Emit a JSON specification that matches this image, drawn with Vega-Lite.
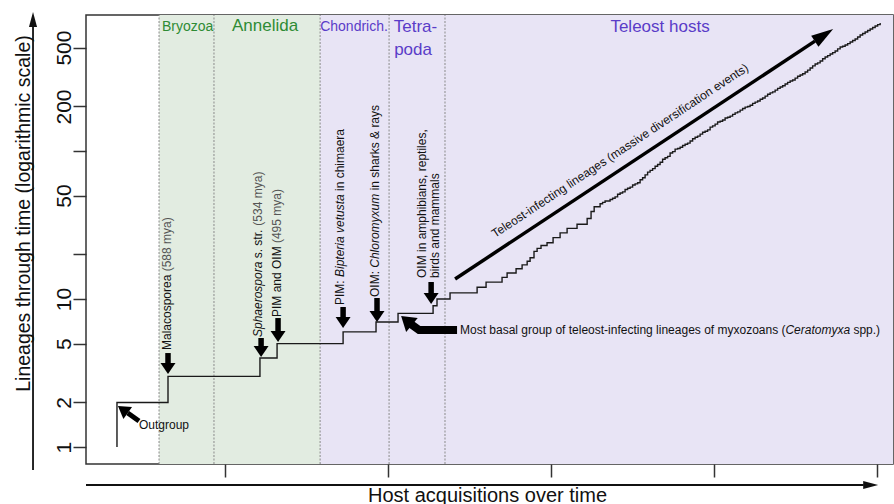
{
  "$schema": "https://vega.github.io/schema/vega-lite/v6.json",
  "width": 807,
  "height": 449,
  "autosize": {"type": "none"},
  "padding": {"left": 86, "top": 15, "right": 1, "bottom": 40},
  "background": "white",
  "config": {"view": {"stroke": "#333333", "strokeWidth": 1.5}, "font": "Liberation Sans"},
  "datasets": {
    "ltt": [
      {"i":0,"t":34.0,"n":1},{"i":1,"t":34.0,"n":2},{"i":2,"t":65.3,"n":3},{"i":3,"t":121.7,"n":4},{"i":4,"t":132.2,"n":5},
      {"i":5,"t":172.7,"n":6},{"i":6,"t":192.9,"n":7},{"i":7,"t":206.4,"n":8},{"i":8,"t":227.9,"n":9},{"i":9,"t":230.3,"n":10},
      {"i":10,"t":238.3,"n":11},{"i":11,"t":254.9,"n":12},{"i":12,"t":260.4,"n":13},{"i":13,"t":270.2,"n":14},{"i":14,"t":273.3,"n":15},
      {"i":15,"t":278.8,"n":16},{"i":16,"t":282.5,"n":17},{"i":17,"t":285.6,"n":18},{"i":18,"t":287.4,"n":19},{"i":19,"t":289.8,"n":21},
      {"i":20,"t":291.7,"n":22},{"i":21,"t":294.1,"n":23},{"i":22,"t":297.8,"n":24},{"i":23,"t":301.5,"n":26},{"i":24,"t":305.8,"n":28},
      {"i":25,"t":310.1,"n":30},{"i":26,"t":316.2,"n":32},{"i":27,"t":322.4,"n":35},{"i":28,"t":324.8,"n":39},{"i":29,"t":326.7,"n":42},
      {"i":30,"t":330.34,"n":44},{"i":31,"t":331.87,"n":45},{"i":32,"t":333.40,"n":46},{"i":33,"t":334.94,"n":46},{"i":34,"t":336.47,"n":47},
      {"i":35,"t":338.01,"n":48},{"i":36,"t":339.54,"n":49},{"i":37,"t":341.07,"n":51},{"i":38,"t":342.61,"n":52},{"i":39,"t":344.14,"n":53},
      {"i":40,"t":345.67,"n":55},{"i":41,"t":347.21,"n":56},{"i":42,"t":348.74,"n":57},{"i":43,"t":350.28,"n":59},{"i":44,"t":351.81,"n":60},
      {"i":45,"t":353.34,"n":61},{"i":46,"t":354.88,"n":64},{"i":47,"t":356.41,"n":66},{"i":48,"t":357.94,"n":69},{"i":49,"t":359.48,"n":72},
      {"i":50,"t":361.01,"n":74},{"i":51,"t":362.55,"n":76},{"i":52,"t":364.08,"n":79},{"i":53,"t":365.61,"n":81},{"i":54,"t":367.15,"n":84},
      {"i":55,"t":368.68,"n":88},{"i":56,"t":370.21,"n":90},{"i":57,"t":371.75,"n":92},{"i":58,"t":373.28,"n":97},{"i":59,"t":374.82,"n":99},
      {"i":60,"t":376.35,"n":103},{"i":61,"t":377.88,"n":104},{"i":62,"t":379.42,"n":106},{"i":63,"t":380.95,"n":109},{"i":64,"t":382.48,"n":111},
      {"i":65,"t":384.02,"n":113},{"i":66,"t":385.55,"n":117},{"i":67,"t":387.09,"n":121},{"i":68,"t":388.62,"n":124},{"i":69,"t":390.15,"n":126},
      {"i":70,"t":391.69,"n":130},{"i":71,"t":393.22,"n":134},{"i":72,"t":394.75,"n":136},{"i":73,"t":396.29,"n":139},{"i":74,"t":397.82,"n":145},
      {"i":75,"t":399.36,"n":148},{"i":76,"t":400.89,"n":152},{"i":77,"t":402.42,"n":157},{"i":78,"t":403.96,"n":159},{"i":79,"t":405.49,"n":162},
      {"i":80,"t":407.02,"n":167},{"i":81,"t":408.56,"n":169},{"i":82,"t":410.09,"n":172},{"i":83,"t":411.63,"n":177},{"i":84,"t":413.16,"n":181},
      {"i":85,"t":414.69,"n":184},{"i":86,"t":416.23,"n":189},{"i":87,"t":417.76,"n":194},{"i":88,"t":419.29,"n":198},{"i":89,"t":420.83,"n":200},
      {"i":90,"t":422.36,"n":204},{"i":91,"t":423.90,"n":210},{"i":92,"t":425.43,"n":214},{"i":93,"t":426.96,"n":218},{"i":94,"t":428.50,"n":224},
      {"i":95,"t":430.03,"n":228},{"i":96,"t":431.56,"n":235},{"i":97,"t":433.10,"n":242},{"i":98,"t":434.63,"n":247},{"i":99,"t":436.17,"n":251},
      {"i":100,"t":437.70,"n":258},{"i":101,"t":439.23,"n":265},{"i":102,"t":440.77,"n":271},{"i":103,"t":442.30,"n":276},{"i":104,"t":443.83,"n":284},
      {"i":105,"t":445.37,"n":291},{"i":106,"t":446.90,"n":297},{"i":107,"t":448.44,"n":302},{"i":108,"t":449.97,"n":311},{"i":109,"t":451.50,"n":320},
      {"i":110,"t":453.04,"n":326},{"i":111,"t":454.57,"n":333},{"i":112,"t":456.10,"n":342},{"i":113,"t":457.64,"n":352},{"i":114,"t":459.17,"n":364},
      {"i":115,"t":460.71,"n":376},{"i":116,"t":462.24,"n":387},{"i":117,"t":463.77,"n":394},{"i":118,"t":465.31,"n":406},{"i":119,"t":466.84,"n":420},
      {"i":120,"t":468.37,"n":432},{"i":121,"t":469.91,"n":441},{"i":122,"t":471.44,"n":452},{"i":123,"t":472.98,"n":462},{"i":124,"t":474.51,"n":474},
      {"i":125,"t":476.04,"n":490},{"i":126,"t":477.58,"n":504},{"i":127,"t":479.11,"n":510},{"i":128,"t":480.64,"n":520},{"i":129,"t":482.18,"n":532},
      {"i":130,"t":483.71,"n":545},{"i":131,"t":485.25,"n":558},{"i":132,"t":486.78,"n":571},{"i":133,"t":488.31,"n":590},{"i":134,"t":489.85,"n":608},
      {"i":135,"t":491.38,"n":622},{"i":136,"t":492.91,"n":637},{"i":137,"t":494.45,"n":652},{"i":138,"t":495.98,"n":667},{"i":139,"t":497.52,"n":684},
      {"i":140,"t":499.05,"n":699},{"i":141,"t":500.58,"n":715},{"i":142,"t":502.12,"n":733}
    ],
    "regions": [
      {"t":59.8,"t2":93.5,"n":0.768,"n2":830,"host":"Invertebrate"},
      {"t":93.5,"t2":158.6,"n":0.768,"n2":830,"host":"Invertebrate"},
      {"t":158.6,"t2":200.9,"n":0.768,"n2":830,"host":"Vertebrate"},
      {"t":200.9,"t2":235.2,"n":0.768,"n2":830,"host":"Vertebrate"},
      {"t":235.2,"t2":510,"n":0.768,"n2":830,"host":"Vertebrate"}
    ],
    "dividers": [
      {"t":59.8,"n":0.768,"n2":830},{"t":93.5,"n":0.768,"n2":830},{"t":158.6,"n":0.768,"n2":830},
      {"t":200.9,"n":0.768,"n2":830},{"t":235.2,"n":0.768,"n2":830}
    ],
    "green": [{"label":"Bryozoa","t":77.3,"n":689,"size":"small"},{"label":"Annelida","t":124.8,"n":699,"size":"large"}],
    "purple": [
      {"label":"Chondrich.","t":179.4,"n":689,"size":"small"},
      {"label":"Tetra-","t":217.1,"n":689,"size":"large"},
      {"label":"poda","t":215.6,"n":481,"size":"large"},
      {"label":"Teleost hosts","t":367.1,"n":689,"size":"large"}
    ],
    "rotPlain": [
      {"label":"Malacosporea","t":64.7,"n":4.522},
      {"label":"s. str.","t":120.5,"n":18.84},
      {"label":"PIM and OIM","t":132.2,"n":7.557},
      {"label":"PIM:","t":170.8,"n":9.110},
      {"label":"in chimaera","t":170.8,"n":53.68},
      {"label":"OIM:","t":192.3,"n":10.32},
      {"label":"in sharks & rays","t":192.3,"n":54.27},
      {"label":"OIM in amphibians, reptiles,","t":221.1,"n":13.87},
      {"label":"birds and mammals","t":229.1,"n":13.87}
    ],
    "rotGray": [
      {"label":"(588 mya)","t":64.7,"n":15.39},
      {"label":"(534 mya)","t":120.5,"n":31.33},
      {"label":"(495 mya)","t":132.2,"n":23.89}
    ],
    "rotItalic": [
      {"label":"Sphaerospora","t":120.5,"n":5.537},
      {"label":"Bipteria vetusta","t":170.8,"n":14.08},
      {"label":"Chloromyxum","t":192.3,"n":16.27}
    ],
    "horPlain": [
      {"label":"Most basal group of teleost-infecting lineages of myxozoans (","t":244.4,"n":6.173},
      {"label":"spp.)","t":485.7,"n":6.173},
      {"label":"Outgroup","t":47.5,"n":1.408}
    ],
    "horItalic": [{"label":"Ceratomyxa","t":444.0,"n":6.173}],
    "teleostText": [{"label":"Teleost-infecting lineages (massive diversification events)","t":265.9,"n":25.8}],
    "downShafts": [
      {"t":65.3,"n":4.316,"n2":3.695},
      {"t":122.4,"n":5.452,"n2":4.813},
      {"t":132.8,"n":7.440,"n2":6.077},
      {"t":172.7,"n":8.831,"n2":7.557},
      {"t":193.5,"n":10.16,"n2":8.297},
      {"t":226.7,"n":13.03,"n2":10.98}
    ],
    "downHeads": [
      {"t":65.3,"n":3.113},
      {"t":122.4,"n":4.057},
      {"t":132.8,"n":5.123},
      {"t":172.7,"n":6.372},
      {"t":193.5,"n":6.991},
      {"t":226.7,"n":9.252}
    ],
    "outgroupShaft": [{"t":47.5,"n":1.499,"t2":40.6,"n2":1.697}],
    "outgroupHead": [{"t":34.6,"n":1.892}],
    "basalShaft": [{"t":242.6,"n":6.173},{"t":219.3,"n":6.173},{"t":214.4,"n":6.745}],
    "basalHead": [{"t":208.3,"n":7.675}],
    "teleostShaft": [{"t":241.4,"n":13.66,"t2":462.1,"n2":552.9}],
    "teleostHead": [{"t":473.3,"n":667.4}],
    "axisShafts": [
      {"t":-17.5,"n":0.699,"t2":-17.5,"n2":720},
      {"t":15,"n":0.554,"t2":492,"n2":0.554}
    ],
    "yArrowHead": [{"t":-17.5,"n":869}],
    "xArrowHead": [{"t":500.9,"n":0.554}]
  },
  "encoding": {
    "x": {"field": "t", "type": "quantitative", "scale": {"domain": [15, 510], "nice": false, "zero": false},
      "axis": {"values": [100, 200, 300, 400, 500], "labels": false, "domain": false, "grid": false, "tickSize": 13, "tickWidth": 1.5, "tickColor": "#333333",
        "title": "Host acquisitions over time", "titleFont": "Liberation Sans", "titleFontSize": 20, "titleFontWeight": "normal", "titleColor": "#111111",
        "titleX": 401, "titleY": 37, "titleBaseline": "alphabetic", "titleAlign": "center"}},
    "y": {"field": "n", "type": "quantitative", "scale": {"type": "log", "domain": [0.768, 830], "nice": false},
      "axis": {"values": [1, 2, 5, 10, 20, 50, 100, 200, 500], "format": "d",
        "labelExpr": "datum.value == 20 || datum.value == 100 ? '' : datum.label",
        "labelAngle": 270, "labelAlign": "center", "labelBaseline": "alphabetic", "labelPadding": 3, "labelFont": "Liberation Sans", "labelFontSize": 21, "labelColor": "#111111",
        "labelOverlap": false, "labelFlush": false,
        "tickSize": 13, "tickWidth": 1.5, "tickColor": "#333333", "domain": false, "grid": false,
        "title": "Lineages through time (logarithmic scale)", "titleFont": "Liberation Sans", "titleFontSize": 19.5, "titleFontWeight": "normal", "titleColor": "#111111",
        "titleX": -57, "titleY": 198, "titleAngle": 270, "titleAlign": "center", "titleBaseline": "alphabetic"}}
  },
  "layer": [
    {
      "data": {"name": "regions"},
      "mark": {"type": "rect", "opacity": 1},
      "encoding": {
        "x2": {"field": "t2"},
        "y2": {"field": "n2"},
        "color": {"field": "host", "type": "nominal", "scale": {"domain": ["Invertebrate", "Vertebrate"], "range": ["#e2ece1", "#e8e4f5"]}, "legend": null}
      }
    },
    {
      "data": {"name": "dividers"},
      "mark": {"type": "rule", "color": "#8a8a8a", "strokeWidth": 1, "strokeDash": [2, 1.5]},
      "encoding": {"y2": {"field": "n2"}}
    },
    {
      "data": {"name": "ltt"},
      "mark": {"type": "line", "interpolate": "step-after", "color": "#1a1a1a", "strokeWidth": 1.4},
      "encoding": {"order": {"field": "i", "type": "quantitative"}}
    },
    {
      "data": {"name": "downShafts"},
      "mark": {"type": "rule", "color": "#000000", "strokeWidth": 5.5, "strokeCap": "butt"},
      "encoding": {"y2": {"field": "n2"}}
    },
    {
      "data": {"name": "downHeads"},
      "mark": {"type": "point", "shape": "M0,0L-1,-0.68L-1,0.68Z", "filled": true, "fill": "#000000", "opacity": 1, "size": 484, "angle": 90},
      "encoding": {}
    },
    {
      "data": {"name": "outgroupShaft"},
      "mark": {"type": "rule", "color": "#000000", "strokeWidth": 5, "strokeCap": "butt"},
      "encoding": {"x2": {"field": "t2"}, "y2": {"field": "n2"}}
    },
    {
      "data": {"name": "outgroupHead"},
      "mark": {"type": "point", "shape": "M0,0L-1,-0.62L-1,0.62Z", "filled": true, "fill": "#000000", "opacity": 1, "size": 576, "angle": 215.5},
      "encoding": {}
    },
    {
      "data": {"name": "basalShaft"},
      "mark": {"type": "line", "color": "#000000", "strokeWidth": 8, "strokeCap": "butt", "strokeJoin": "miter"},
      "encoding": {}
    },
    {
      "data": {"name": "basalHead"},
      "mark": {"type": "point", "shape": "M0,0L-1,-0.65L-1,0.65Z", "filled": true, "fill": "#000000", "opacity": 1, "size": 784, "angle": 219.5},
      "encoding": {}
    },
    {
      "data": {"name": "teleostShaft"},
      "mark": {"type": "rule", "color": "#000000", "strokeWidth": 3.5, "strokeCap": "butt"},
      "encoding": {"x2": {"field": "t2"}, "y2": {"field": "n2"}}
    },
    {
      "data": {"name": "teleostHead"},
      "mark": {"type": "point", "shape": "M0,0L-1,-0.3L-1,0.3Z", "filled": true, "fill": "#000000", "opacity": 1, "size": 1936, "angle": 326.5},
      "encoding": {}
    },
    {
      "data": {"name": "axisShafts"},
      "mark": {"type": "rule", "color": "#111111", "strokeWidth": 1.8, "strokeCap": "butt"},
      "encoding": {"x2": {"field": "t2"}, "y2": {"field": "n2"}}
    },
    {
      "data": {"name": "yArrowHead"},
      "mark": {"type": "point", "shape": "M0,0L-1,-0.27L-1,0.27Z", "filled": true, "fill": "#111111", "opacity": 1, "size": 900, "angle": 270},
      "encoding": {}
    },
    {
      "data": {"name": "xArrowHead"},
      "mark": {"type": "point", "shape": "M0,0L-1,-0.27L-1,0.27Z", "filled": true, "fill": "#111111", "opacity": 1, "size": 900, "angle": 0},
      "encoding": {}
    },
    {
      "data": {"name": "green"},
      "mark": {"type": "text", "font": "Liberation Sans", "color": "#2e8b34", "align": "center", "baseline": "middle"},
      "encoding": {
        "text": {"field": "label"},
        "size": {"field": "size", "type": "nominal", "scale": {"domain": ["small", "large"], "range": [14, 17]}, "legend": null}
      }
    },
    {
      "data": {"name": "purple"},
      "mark": {"type": "text", "font": "Liberation Sans", "color": "#5a3cc8", "align": "center", "baseline": "middle"},
      "encoding": {
        "text": {"field": "label"},
        "size": {"field": "size", "type": "nominal", "scale": {"domain": ["small", "large"], "range": [13.5, 17]}, "legend": null}
      }
    },
    {
      "data": {"name": "rotPlain"},
      "mark": {"type": "text", "font": "Liberation Sans", "fontSize": 12, "color": "#111111", "align": "left", "baseline": "middle", "angle": 270},
      "encoding": {"text": {"field": "label"}}
    },
    {
      "data": {"name": "rotGray"},
      "mark": {"type": "text", "font": "Liberation Sans", "fontSize": 12, "color": "#555555", "align": "left", "baseline": "middle", "angle": 270},
      "encoding": {"text": {"field": "label"}}
    },
    {
      "data": {"name": "rotItalic"},
      "mark": {"type": "text", "font": "Liberation Sans", "fontSize": 12, "fontStyle": "italic", "color": "#111111", "align": "left", "baseline": "middle", "angle": 270},
      "encoding": {"text": {"field": "label"}}
    },
    {
      "data": {"name": "horPlain"},
      "mark": {"type": "text", "font": "Liberation Sans", "fontSize": 12, "color": "#111111", "align": "left", "baseline": "middle"},
      "encoding": {"text": {"field": "label"}}
    },
    {
      "data": {"name": "horItalic"},
      "mark": {"type": "text", "font": "Liberation Sans", "fontSize": 12, "fontStyle": "italic", "color": "#111111", "align": "left", "baseline": "middle"},
      "encoding": {"text": {"field": "label"}}
    },
    {
      "data": {"name": "teleostText"},
      "mark": {"type": "text", "font": "Liberation Sans", "fontSize": 12, "color": "#111111", "align": "left", "baseline": "alphabetic", "angle": 326.5},
      "encoding": {"text": {"field": "label"}}
    }
  ]
}
